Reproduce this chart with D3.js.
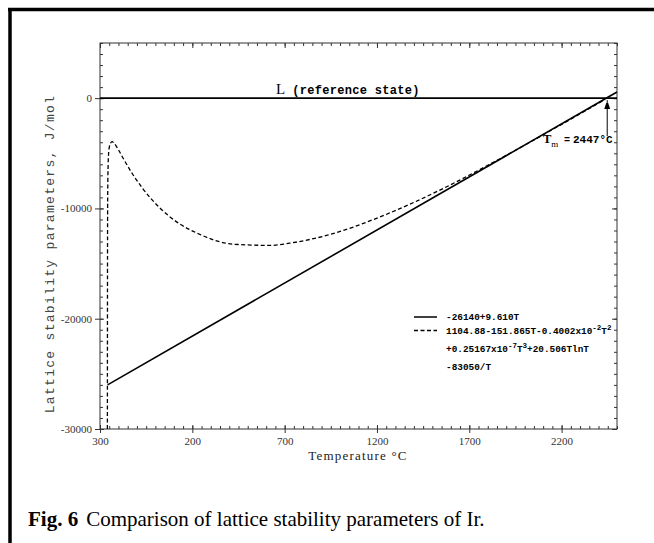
<!DOCTYPE html>
<html>
<head>
<meta charset="utf-8">
<script src="https://cdn.jsdelivr.net/npm/d3@7"></script>
<style>
  body { margin: 0; background: #fff; }
  svg { display: block; }
</style>
</head>
<body>
<div id="chart"></div>
<script>
// values (temperature axis in °C, G in J/mol)
const tempSolid = [-259, 2500];
const gSolid = [-26000, 560];

const tempDashed = [-260, -259.6, -259, -258, -256, -253, -249, -243, -235, -223, -198, -173, -123, -73,
  27, 127, 227, 427, 627, 727, 927, 1227, 1527, 1827, 2127, 2427];
const gDashed = [-30000, -20000, -12000, -8200, -6100, -4900, -4400, -4100, -3950, -4100, -4750, -5500, -6900, -8100,
  -10000, -11350, -12250, -13250, -13350, -13150, -12450, -10700, -8450, -5850, -3070, -190];

const refTemp = [-300, 2500];
const refG = [0, 0];

const meltTemp = 2447;

const xTickValues = [-300, 200, 700, 1200, 1700, 2200];
const xTickLabels = ['300', '200', '700', '1200', '1700', '2200'];
const yTickValues = [0, -10000, -20000, -30000];
const yTickLabels = ['0', '-10000', '-20000', '-30000'];

const WIDTH = 654;
const HEIGHT = 543;
const plot = { left: 100, right: 617, top: 43, bottom: 429 };

const svg = d3.select('#chart').append('svg').attr('width', WIDTH).attr('height', HEIGHT);
svg.append('rect').attr('width', WIDTH).attr('height', HEIGHT).attr('fill', '#fff');

const x = d3.scaleLinear().domain([-300, 2500]).range([plot.left, plot.right]);
const y = d3.scaleLinear().domain([-30000, 5000]).range([plot.bottom, plot.top]);

function addFrame() {
  // thick page border (left + top)
  svg.append('line').attr('x1', 10).attr('x2', 10).attr('y1', 8).attr('y2', HEIGHT)
    .attr('stroke', '#000').attr('stroke-width', 3.5);
  svg.append('line').attr('x1', 8).attr('x2', WIDTH).attr('y1', 9.5).attr('y2', 9.5)
    .attr('stroke', '#000').attr('stroke-width', 3.5);
}

function addAxes() {
  const minorY = d3.range(-30000, 5001, 1000);
  const minorX = d3.range(-300, 2501, 50);

  // box
  svg.append('rect')
    .attr('x', plot.left).attr('y', plot.top)
    .attr('width', plot.right - plot.left).attr('height', plot.bottom - plot.top)
    .attr('fill', 'none').attr('stroke', '#333').attr('stroke-width', 1);

  const styleTicks = (g) => {
    g.select('.domain').remove();
    g.selectAll('.tick line').attr('stroke', '#333');
  };

  // minor ticks, all four sides, pointing inward
  svg.append('g').attr('transform', `translate(${plot.left},0)`)
    .call(d3.axisLeft(y).tickValues(minorY).tickSize(-3).tickFormat(''))
    .call(styleTicks);
  svg.append('g').attr('transform', `translate(${plot.right},0)`)
    .call(d3.axisRight(y).tickValues(minorY).tickSize(-3).tickFormat(''))
    .call(styleTicks);
  svg.append('g').attr('transform', `translate(0,${plot.bottom})`)
    .call(d3.axisBottom(x).tickValues(minorX).tickSize(-3).tickFormat(''))
    .call(styleTicks);
  svg.append('g').attr('transform', `translate(0,${plot.top})`)
    .call(d3.axisTop(x).tickValues(minorX).tickSize(-3).tickFormat(''))
    .call(styleTicks);

  // major ticks + labels
  const yAxis = svg.append('g').attr('transform', `translate(${plot.left},0)`)
    .call(d3.axisLeft(y).tickValues(yTickValues).tickSize(5).tickPadding(3)
      .tickFormat((d, i) => yTickLabels[i]))
    .call(styleTicks);
  yAxis.selectAll('.tick line').attr('x1', 4);

  const xAxis = svg.append('g').attr('transform', `translate(0,${plot.bottom})`)
    .call(d3.axisBottom(x).tickValues(xTickValues).tickSize(4).tickPadding(4)
      .tickFormat((d, i) => xTickLabels[i]))
    .call(styleTicks);
  xAxis.selectAll('.tick line').attr('y1', -4);

  svg.append('g').attr('transform', `translate(0,${plot.top})`)
    .call(d3.axisTop(x).tickValues(xTickValues).tickSize(-5).tickFormat(''))
    .call(styleTicks);
  svg.append('g').attr('transform', `translate(${plot.right},0)`)
    .call(d3.axisRight(y).tickValues(yTickValues).tickSize(-5).tickFormat(''))
    .call(styleTicks);

  svg.selectAll('.tick text')
    .attr('font-family', '"Liberation Serif", serif')
    .attr('font-size', 11)
    .attr('fill', '#333');

  // axis titles
  svg.append('text')
    .attr('x', 358).attr('y', 460)
    .attr('text-anchor', 'middle')
    .attr('font-family', '"Liberation Serif", serif')
    .attr('font-size', 13)
    .attr('letter-spacing', 1.2)
    .attr('fill', '#222')
    .text('Temperature °C');

  svg.append('text')
    .attr('transform', 'translate(54,254) rotate(-90)')
    .attr('text-anchor', 'middle')
    .attr('font-family', '"Liberation Mono", monospace')
    .attr('font-size', 13)
    .attr('letter-spacing', 1.3)
    .attr('fill', '#444')
    .text('Lattice stability parameters, J/mol');
}

function addCurves() {
  const line = d3.line().x((d) => x(d[0])).y((d) => y(d[1]));
  const curve = d3.line().x((d) => x(d[0])).y((d) => y(d[1])).curve(d3.curveMonotoneX);

  svg.append('path')
    .datum(d3.zip(refTemp, refG))
    .attr('d', line)
    .attr('fill', 'none').attr('stroke', '#000').attr('stroke-width', 1.6);

  svg.append('path')
    .datum(d3.zip(tempSolid, gSolid))
    .attr('d', line)
    .attr('fill', 'none').attr('stroke', '#000').attr('stroke-width', 1.6);

  svg.append('path')
    .datum(d3.zip(tempDashed, gDashed))
    .attr('d', curve)
    .attr('fill', 'none').attr('stroke', '#000').attr('stroke-width', 1.3)
    .attr('stroke-dasharray', '4,2.5');
}

function addAnnotations() {
  // L (reference state)
  const ref = svg.append('text').attr('x', 276).attr('y', 94).attr('fill', '#000');
  ref.append('tspan').attr('font-family', '"Liberation Serif", serif').attr('font-size', 15).text('L');
  ref.append('tspan').attr('dx', 7).attr('font-family', '"Liberation Mono", monospace')
    .attr('font-size', 12).attr('font-weight', 'bold').attr('letter-spacing', 0.3).text('(reference state)');

  // melting point arrow
  svg.append('defs').append('marker')
    .attr('id', 'arrow')
    .attr('orient', 'auto')
    .attr('markerUnits', 'userSpaceOnUse')
    .attr('markerWidth', 6).attr('markerHeight', 10)
    .attr('refX', 9).attr('refY', 3)
    .append('path').attr('d', 'M0,0 L9,3 L0,6 Z').attr('fill', '#000');

  svg.append('line')
    .attr('x1', x(meltTemp)).attr('x2', x(meltTemp))
    .attr('y1', 136).attr('y2', y(0) + 2)
    .attr('stroke', '#000').attr('stroke-width', 1)
    .attr('marker-end', 'url(#arrow)');

  const tm = svg.append('text').attr('x', 543).attr('y', 143).attr('fill', '#000');
  tm.append('tspan').attr('font-family', '"Liberation Serif", serif').attr('font-size', 12.5).attr('font-weight', 'bold').text('T');
  tm.append('tspan').attr('dy', 4).attr('font-family', '"Liberation Serif", serif').attr('font-size', 9).text('m');
  tm.append('tspan').attr('x', 564).attr('dy', -4).attr('font-family', '"Liberation Mono", monospace')
    .attr('font-size', 10).attr('font-weight', 'bold').text('=');
  tm.append('tspan').attr('x', 573).attr('font-family', '"Liberation Mono", monospace')
    .attr('font-size', 11).attr('font-weight', 'bold').text(`${meltTemp}°C`);
}

function addLegend() {
  const lx = 414;
  const tx = 446;
  const g = svg.append('g').attr('font-family', '"Liberation Mono", monospace')
    .attr('font-size', 9.4).attr('font-weight', 'bold').attr('fill', '#000');

  g.append('line').attr('x1', lx).attr('x2', lx + 23).attr('y1', 317).attr('y2', 317)
    .attr('stroke', '#000').attr('stroke-width', 1.5);
  g.append('line').attr('x1', lx).attr('x2', lx + 23).attr('y1', 330.5).attr('y2', 330.5)
    .attr('stroke', '#000').attr('stroke-width', 1.3).attr('stroke-dasharray', '4,2.5');

  const sup = (t, s) => t.append('tspan').attr('dy', -4).attr('font-size', 7.5).text(s);
  const base = (t, s) => t.append('tspan').attr('dy', 4).text(s);

  g.append('text').attr('x', tx).attr('y', 320).text('-26140+9.610T');

  const l2 = g.append('text').attr('x', tx).attr('y', 334);
  l2.append('tspan').text('1104.88-151.865T-0.4002x10');
  sup(l2, '-2');
  base(l2, 'T');
  sup(l2, '2');

  const l3 = g.append('text').attr('x', tx).attr('y', 352);
  l3.append('tspan').text('+0.25167x10');
  sup(l3, '-7');
  base(l3, 'T');
  sup(l3, '3');
  base(l3, '+20.506TlnT');

  g.append('text').attr('x', tx).attr('y', 370).text('-83050/T');
}

function addCaption() {
  const cap = svg.append('text').attr('x', 28).attr('y', 526)
    .attr('font-family', '"Liberation Serif", serif').attr('font-size', 21).attr('fill', '#000');
  cap.append('tspan').attr('font-weight', 'bold').text('Fig. 6');
  cap.append('tspan').attr('dx', 8).text('Comparison of lattice stability parameters of Ir.');
}

addFrame();
addAxes();
addCurves();
addAnnotations();
addLegend();
addCaption();
</script>
</body>
</html>
